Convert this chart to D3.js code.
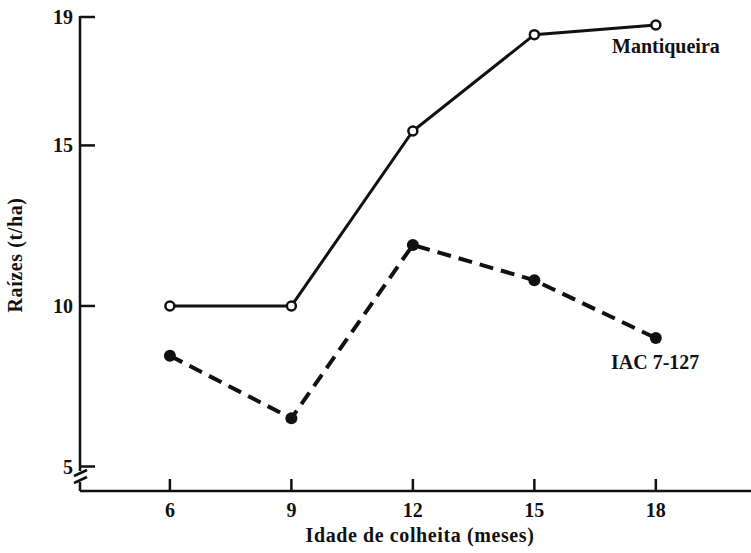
<!DOCTYPE html>
<html>
<head>
<meta charset="utf-8">
<script src="https://cdn.jsdelivr.net/npm/d3@7"></script>
<style>
  body { margin: 0; background: #fff; }
  text { font-family: "Liberation Serif", "DejaVu Serif", serif; font-weight: bold; fill: #111; }
</style>
</head>
<body>
<svg id="chart"></svg>
<script>
var months = [6, 9, 12, 15, 18];
var mantiqueira = [10, 10, 15.45, 18.45, 18.75];
var iac = [8.45, 6.5, 11.9, 10.8, 9.0];
var yTicks = [5, 10, 15, 19];

var width = 751, height = 553;

var svg = d3.select("#chart")
    .attr("width", width)
    .attr("height", height);

var x = d3.scaleLinear().domain([3.78, 20.35]).range([80, 751]);
var y = d3.scaleLinear().domain([5, 19]).range([466.5, 17]);
var axisY = 491;

// y axis line with break
svg.append("line")
    .attr("x1", 80).attr("x2", 80)
    .attr("y1", y(19) - 1).attr("y2", 471)
    .attr("stroke", "#111").attr("stroke-width", 2.5);
svg.append("line")
    .attr("x1", 80).attr("x2", 80)
    .attr("y1", 482).attr("y2", axisY)
    .attr("stroke", "#111").attr("stroke-width", 2.5);
[0, 7].forEach(function(o) {
    svg.append("line")
        .attr("x1", 74).attr("x2", 87)
        .attr("y1", 476 + o).attr("y2", 470 + o)
        .attr("stroke", "#111").attr("stroke-width", 2.5);
});

// y ticks (inward)
var yg = svg.append("g");
yg.selectAll("line").data(yTicks).enter().append("line")
    .attr("x1", 80).attr("x2", 95)
    .attr("y1", function(d) { return y(d); })
    .attr("y2", function(d) { return y(d); })
    .attr("stroke", "#111").attr("stroke-width", 2.5);
yg.selectAll("text").data(yTicks).enter().append("text")
    .attr("x", 73)
    .attr("y", function(d) { return y(d); })
    .attr("dy", "0.35em")
    .attr("text-anchor", "end")
    .style("font-size", "20px")
    .text(function(d) { return d; });

// x axis
svg.append("line")
    .attr("x1", 80).attr("x2", 751)
    .attr("y1", axisY).attr("y2", axisY)
    .attr("stroke", "#111").attr("stroke-width", 2.5);
var xg = svg.append("g");
xg.selectAll("line").data(months).enter().append("line")
    .attr("x1", function(d) { return x(d); })
    .attr("x2", function(d) { return x(d); })
    .attr("y1", axisY).attr("y2", axisY - 12)
    .attr("stroke", "#111").attr("stroke-width", 2.5);
xg.selectAll("text").data(months).enter().append("text")
    .attr("x", function(d) { return x(d); })
    .attr("y", 517)
    .attr("text-anchor", "middle")
    .style("font-size", "20px")
    .text(function(d) { return d; });

// axis titles
svg.append("text")
    .attr("x", 420).attr("y", 542)
    .attr("text-anchor", "middle")
    .style("font-size", "20px")
    .style("letter-spacing", "0.6px")
    .text("Idade de colheita (meses)");
svg.append("text")
    .attr("transform", "translate(22,255) rotate(-90)")
    .attr("text-anchor", "middle")
    .style("font-size", "20px")
    .style("letter-spacing", "0.6px")
    .text("Raízes (t/ha)");

var line = d3.line()
    .x(function(d, i) { return x(months[i]); })
    .y(function(d) { return y(d); });

// IAC 7-127 (dashed, filled dots)
svg.append("path")
    .datum(iac)
    .attr("d", line)
    .attr("fill", "none")
    .attr("stroke", "#111")
    .attr("stroke-width", 4)
    .attr("stroke-dasharray", "14,8");
svg.selectAll(".iac").data(iac).enter().append("circle")
    .attr("class", "iac")
    .attr("cx", function(d, i) { return x(months[i]); })
    .attr("cy", function(d) { return y(d); })
    .attr("r", 6)
    .attr("fill", "#111");

// Mantiqueira (solid, open dots)
svg.append("path")
    .datum(mantiqueira)
    .attr("d", line)
    .attr("fill", "none")
    .attr("stroke", "#111")
    .attr("stroke-width", 3);
svg.selectAll(".man").data(mantiqueira).enter().append("circle")
    .attr("class", "man")
    .attr("cx", function(d, i) { return x(months[i]); })
    .attr("cy", function(d) { return y(d); })
    .attr("r", 4.5)
    .attr("fill", "#fff")
    .attr("stroke", "#111")
    .attr("stroke-width", 2.5);

// series labels
svg.append("text")
    .attr("x", 612).attr("y", 53)
    .style("font-size", "20px")
    .text("Mantiqueira");
svg.append("text")
    .attr("x", 611).attr("y", 369)
    .style("font-size", "20px")
    .text("IAC 7-127");
</script>
</body>
</html>
